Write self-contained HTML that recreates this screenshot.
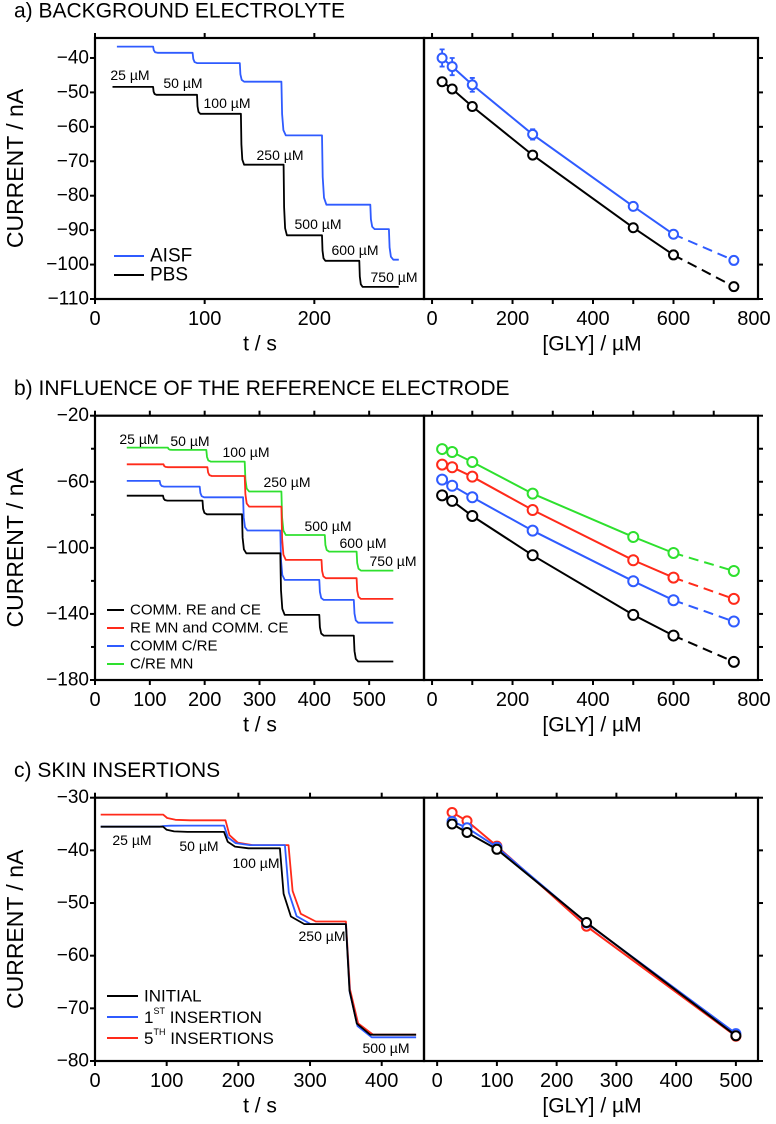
<!DOCTYPE html>
<html><head><meta charset="utf-8">
<style>
html,body{margin:0;padding:0;background:#fff;}
svg{display:block;font-family:"Liberation Sans",sans-serif;}
</style></head>
<body>
<svg id="fig" width="776" height="1124" viewBox="0 0 776 1124" xmlns="http://www.w3.org/2000/svg"></svg>
<script>
// ---------- DATA ----------
// Panel a, time traces: step start times (s) and plateau currents (nA)
const aAisfTimes = [20,53,89,132,170,207,251,268,277];
const aAisfLevels = [-36.7,-38.5,-41.5,-46.9,-62.5,-82.6,-89.7,-98.6];
const aPbsTimes = [16,53,93,133,172,207,241,277];
const aPbsLevels = [-48.4,-50.7,-56.2,-71.0,-91.5,-98.9,-106.5];
// Panel a calibration
const aConc = [25,50,100,250,500,600,750];
const aAisfCal = [-40.0,-42.5,-47.8,-62.2,-83.1,-91.2,-98.8];
const aAisfErr = [2.5,2.5,2.0,1.5,0.6,0.6,0.6];
const aPbsCal = [-46.9,-49.0,-54.1,-68.2,-89.3,-97.2,-106.4];
const aPbsErr = [1.0,1.0,0.8,1.0,1.0,1.2,1.2];
const aLabels = ["25 µM","50 µM","100 µM","250 µM","500 µM","600 µM","750 µM"];

// Panel b, time traces
const bGreenTimes = [58,133,203,273,340,419,477,544];
const bGreenLevels = [-39.3,-40.7,-47.8,-65.9,-92.2,-102.3,-113.8];
const bRedTimes = [58,125,205,273,340,413,477,544];
const bRedLevels = [-49.4,-51.2,-56.5,-75.0,-107.3,-118.4,-130.9];
const bBlueTimes = [58,118,191,270,338,409,472,544];
const bBlueLevels = [-59.5,-62.9,-69.4,-89.5,-119.4,-131.5,-145.3];
const bBlackTimes = [58,124,196,268,338,409,472,544];
const bBlackLevels = [-68.4,-71.4,-79.7,-103.3,-140.6,-153.1,-168.8];
// Panel b calibration
const bConc = [25,50,100,250,500,600,750];
const bGreenCal = [-40.2,-42.0,-48.0,-67.2,-93.4,-103.1,-114.0];
const bRedCal = [-49.6,-51.2,-56.9,-77.1,-107.5,-118.0,-130.9];
const bBlueCal = [-58.7,-62.4,-69.4,-89.6,-120.2,-131.7,-144.6];
const bBlackCal = [-68.2,-71.6,-80.7,-104.5,-140.6,-153.1,-169.0];

// Panel c, time traces
const cRedTimes = [8,95,182,270,350,448];
const cRedLevels = [-33.2,-34.3,-39.0,-53.5,-75.0];
const cBlueTimes = [8,90,180,265,350,448];
const cBlueLevels = [-35.5,-35.3,-39.0,-54.0,-75.5];
const cBlackTimes = [8,95,180,258,350,448];
const cBlackLevels = [-35.5,-36.5,-39.6,-54.0,-75.0];
// Panel c calibration
const cConc = [25,50,100,250,500];
const cRedCal = [-32.8,-34.4,-39.2,-54.4,-75.3];
const cBlueCal = [-34.5,-35.7,-39.4,-53.8,-74.8];
const cBlackCal = [-35.0,-36.6,-39.8,-53.7,-75.2];

const tTicksA = [0,100,200];
const tTicksB = [0,100,200,300,400,500];
const tTicksC = [0,100,200,300,400];
const gTicksAB = [0,200,400,600,800];
const gTicksC = [0,100,200,300,400,500];
const yTicksA = [-40,-50,-60,-70,-80,-90,-100,-110];
const yTicksB = [-20,-60,-100,-140,-180];
const yTicksC = [-30,-40,-50,-60,-70,-80];

// ---------- DRAWING ----------
const NS = "http://www.w3.org/2000/svg";
const svg = document.getElementById('fig');
function el(tag, attrs, parent){
  const e = document.createElementNS(NS, tag);
  for (const k in attrs) e.setAttribute(k, attrs[k]);
  (parent||svg).appendChild(e);
  return e;
}
function txt(s, x, y, size, anchor, parent, name){
  const t = el('text',{x:x,y:y,'font-size':size,'text-anchor':anchor||'middle','dominant-baseline':'central',fill:'#000'},parent);
  t.textContent = s;
  
  
  return t;
}
function lin(d0,d1,r0,r1){ return v => r0 + (v-d0)/(d1-d0)*(r1-r0); }

function panel(cfg){
  const g = el('g',{});
  
  
  const xL = lin(cfg.tDom[0], cfg.tDom[1], 95, 424);
  const xR = lin(cfg.gDom[0], cfg.gDom[1], 424, 758);
  const y = lin(cfg.yDom[0], cfg.yDom[1], cfg.top, cfg.bot);
  // title
  txt(cfg.title, 14, cfg.top-27, 21, 'start', g, 'panel-title');
  // boxes
  const bl = el('rect',{x:95,y:cfg.top,width:329,height:cfg.bot-cfg.top,fill:'none',stroke:'#000','stroke-width':2.2},g);
  
  
  const br = el('rect',{x:424,y:cfg.top,width:334,height:cfg.bot-cfg.top,fill:'none',stroke:'#000','stroke-width':2.2},g);
  
  
  // y ticks & labels
  cfg.yTicks.forEach(v=>{
    el('line',{x1:90,x2:95,y1:y(v),y2:y(v),stroke:'#000','stroke-width':2},g);
    el('line',{x1:758,x2:763,y1:y(v),y2:y(v),stroke:'#000','stroke-width':2},g);
    txt(String(v).replace('-','\u2212'), 89, y(v), 19, 'end', g, 'y-tick-label');
  });
  (cfg.yMinor||[]).forEach(v=>{
    el('line',{x1:758,x2:763,y1:y(v),y2:y(v),stroke:'#000','stroke-width':2},g);
    el('line',{x1:91,x2:95,y1:y(v),y2:y(v),stroke:'#000','stroke-width':2},g);
  });
  // x ticks left
  cfg.tTicks.forEach(v=>{
    el('line',{x1:xL(v),x2:xL(v),y1:cfg.bot,y2:cfg.bot+5,stroke:'#000','stroke-width':2},g);
    el('line',{x1:xL(v),x2:xL(v),y1:cfg.top,y2:cfg.top-5,stroke:'#000','stroke-width':2},g);
    txt(String(v), xL(v), cfg.bot+20, 20, 'middle', g, 'x-tick-label');
  });
  cfg.gMinor.forEach(v=>{
    el('line',{x1:xR(v),x2:xR(v),y1:cfg.bot,y2:cfg.bot+5,stroke:'#000','stroke-width':2},g);
    el('line',{x1:xR(v),x2:xR(v),y1:cfg.top,y2:cfg.top-5,stroke:'#000','stroke-width':2},g);
  });
  cfg.gTicks.forEach(v=>{
    txt(String(v), xR(v), cfg.bot+20, 20, 'middle', g, 'x-tick-label');
  });
  txt('t / s', 260, cfg.bot+45, 21, 'middle', g, 'x-axis-title-time');
  txt('[GLY] / µM', 592, cfg.bot+45, 21, 'middle', g, 'x-axis-title-concentration');
  const yt = txt('CURRENT / nA', 0, 0, 23, 'middle', g, 'y-axis-title');
  yt.setAttribute('transform','translate(15,'+((cfg.top+cfg.bot)/2)+') rotate(-90)');
  // traces
  cfg.traces.forEach(tr=>{
    const pts=[];
    const T=tr.times, L=tr.levels, w=tr.w;
    for(let i=0;i<L.length;i++){
      const s = i===0 ? T[0] : T[i]+w;
      if(i>0){
        const prev=L[i-1];
        pts.push([T[i], prev]);
        pts.push([T[i]+w*0.15, prev+(L[i]-prev)*0.6]);
        pts.push([T[i]+w*0.45, prev+(L[i]-prev)*0.9]);
      }
      pts.push([s, L[i]]);
      pts.push([T[i+1], L[i]]);
    }
    const p = el('polyline',{points:pts.map(q=>xL(q[0]).toFixed(1)+','+y(q[1]).toFixed(1)).join(' '),fill:'none',stroke:tr.color,'stroke-width':1.8,'stroke-linejoin':'round'},g);
    
    
  });
  // calibrations
  cfg.cals.forEach(c=>{
    const n=c.vals.length;
    const solidEnd = cfg.dashLast ? n-1 : n;
    const sp = [];
    for(let i=0;i<solidEnd;i++) sp.push(xR(cfg.conc[i]).toFixed(1)+','+y(c.vals[i]).toFixed(1));
    const l = el('polyline',{points:sp.join(' '),fill:'none',stroke:c.color,'stroke-width':2},g);
    
    
    if(cfg.dashLast){
      const d = el('line',{x1:xR(cfg.conc[n-2]),y1:y(c.vals[n-2]),x2:xR(cfg.conc[n-1]),y2:y(c.vals[n-1]),stroke:c.color,'stroke-width':2,'stroke-dasharray':'10,6'},g);
      
      
    }
    c.vals.forEach((v,i)=>{
      if(c.err){
        const e = el('path',{d:`M${xR(cfg.conc[i])},${y(v+c.err[i])}V${y(v-c.err[i])}M${xR(cfg.conc[i])-2.5},${y(v+c.err[i])}h5M${xR(cfg.conc[i])-2.5},${y(v-c.err[i])}h5`,stroke:c.color,'stroke-width':1.8,fill:'none'},g);
        
        
      }
      const m = el('circle',{cx:xR(cfg.conc[i]),cy:y(v),r:cfg.r||5,fill:'#fff',stroke:c.color,'stroke-width':2},g);
      
      
    });
  });
  // conc labels
  cfg.concLabels.forEach(l=>{ txt(l[0], l[1], l[2], 14, 'middle', g, 'concentration-label'); });
  // legend
  cfg.legend.forEach((lg,i)=>{
    const yy = cfg.legY + i*cfg.legDy;
    const ln = el('line',{x1:cfg.legX,x2:cfg.legX+cfg.legW,y1:yy,y2:yy,stroke:lg[1],'stroke-width':2},g);
    
    
    const t = el('text',{x:cfg.legX+cfg.legW+6,y:yy,'font-size':cfg.legFs,'dominant-baseline':'central',fill:'#000'},g);
    
    
    if(lg[2]){
      const a=el('tspan',{},t); a.textContent=lg[0];
      const b=el('tspan',{'font-size':9,dy:-6},t); b.textContent=lg[2];
      const c=el('tspan',{dy:6},t); c.textContent=' '+lg[3];
    } else t.textContent = lg[0];
  });
}

panel({name:'panel-a-background-electrolyte', title:'a) BACKGROUND ELECTROLYTE', top:38, bot:299,
  yDom:[-34.2,-110], tDom:[0,300], gDom:[-20,810],
  yTicks:yTicksA, tTicks:tTicksA, gTicks:gTicksAB, gMinor:[0,100,200,300,400,500,600,700],
  traces:[{name:'aisf-trace',color:'#2f5bff',times:aAisfTimes,levels:aAisfLevels,w:4},
          {name:'pbs-trace',color:'#000',times:aPbsTimes,levels:aPbsLevels,w:3}],
  conc:aConc, dashLast:true, r:4.5,
  cals:[{name:'aisf',color:'#2f5bff',vals:aAisfCal,err:aAisfErr},{name:'pbs',color:'#000',vals:aPbsCal,err:aPbsErr}],
  concLabels:[[aLabels[0],130,75],[aLabels[1],183,83],[aLabels[2],227,103],[aLabels[3],280,155],[aLabels[4],318,224],[aLabels[5],355,250],[aLabels[6],394,277]],
  legend:[['AISF','#2f5bff'],['PBS','#000']], legX:114, legY:256, legDy:19, legW:30, legFs:19
});
panel({name:'panel-b-reference-electrode', title:'b) INFLUENCE OF THE REFERENCE ELECTRODE', top:415.7, bot:680,
  yDom:[-20,-180], tDom:[0,600], gDom:[-20,810],
  yTicks:yTicksB, yMinor:[-40,-80,-120,-160], tTicks:tTicksB, gTicks:gTicksAB, gMinor:[0,100,200,300,400,500,600,700],
  traces:[{name:'green-trace',color:'#2ee02e',times:bGreenTimes,levels:bGreenLevels,w:8},
          {name:'red-trace',color:'#ff2a1a',times:bRedTimes,levels:bRedLevels,w:8},
          {name:'blue-trace',color:'#2f5bff',times:bBlueTimes,levels:bBlueLevels,w:8},
          {name:'black-trace',color:'#000',times:bBlackTimes,levels:bBlackLevels,w:8}],
  conc:bConc, dashLast:true, r:5,
  cals:[{name:'green',color:'#2ee02e',vals:bGreenCal},{name:'red',color:'#ff2a1a',vals:bRedCal},{name:'blue',color:'#2f5bff',vals:bBlueCal},{name:'black',color:'#000',vals:bBlackCal}],
  concLabels:[['25 µM',139,439],['50 µM',190,441],['100 µM',246,452],['250 µM',287,482],['500 µM',328,526],['600 µM',363,543],['750 µM',393,561]],
  legend:[['COMM. RE and CE','#000'],['RE MN and COMM. CE','#ff2a1a'],['COMM C/RE','#2f5bff'],['C/RE MN','#2ee02e']], legX:107, legY:610, legDy:18, legW:17, legFs:15
});
panel({name:'panel-c-skin-insertions', title:'c) SKIN INSERTIONS', top:797.7, bot:1061,
  yDom:[-30,-80], tDom:[0,459], gDom:[-22,537],
  yTicks:yTicksC, tTicks:tTicksC, gTicks:gTicksC, gMinor:[0,100,200,300,400,500],
  traces:[{name:'fifth-insertion-trace',color:'#ff2a1a',times:cRedTimes,levels:cRedLevels,w:38},
          {name:'first-insertion-trace',color:'#2f5bff',times:cBlueTimes,levels:cBlueLevels,w:36},
          {name:'initial-trace',color:'#000',times:cBlackTimes,levels:cBlackLevels,w:34}],
  conc:cConc, dashLast:false, r:4.5,
  cals:[{name:'fifth-insertion',color:'#ff2a1a',vals:cRedCal},{name:'first-insertion',color:'#2f5bff',vals:cBlueCal},{name:'initial',color:'#000',vals:cBlackCal}],
  concLabels:[['25 µM',132,840],['50 µM',199,846],['100 µM',256,863],['250 µM',322,936],['500 µM',386,1048]],
  legend:[['INITIAL','#000'],['1','#2f5bff','ST','INSERTION'],['5','#ff2a1a','TH','INSERTIONS']], legX:107, legY:996, legDy:21, legW:31, legFs:17
});
</script>
</body></html>
